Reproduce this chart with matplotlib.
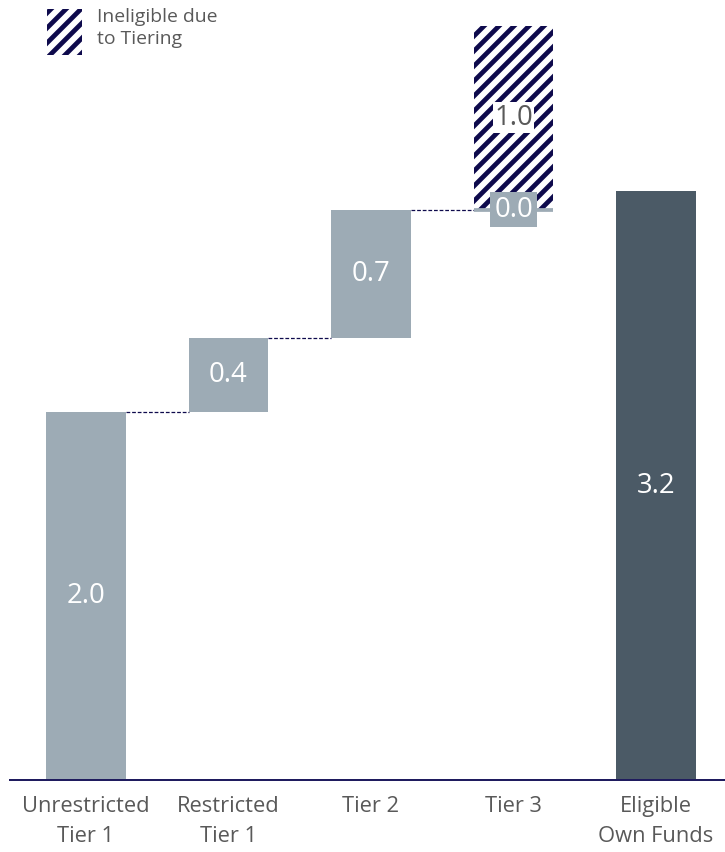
import matplotlib
matplotlib.use('Agg')
import matplotlib.pyplot as plt
from matplotlib.patches import Rectangle

categories = ['Unrestricted\nTier 1', 'Restricted\nTier 1', 'Tier 2', 'Tier 3', 'Eligible\nOwn Funds']
eligible = [2.0, 0.4, 0.7, 0.0]      # eligible amount per tier
ineligible = [0.0, 0.0, 0.0, 1.0]    # amount cut off by tiering limits
total = 3.2                          # eligible own funds

LIGHT = '#9dabb5'
DARK = '#4b5a66'
NAVY = '#0e0a4c'
GREY = '#595959'
W = 0.56

DPI = 90
plt.rcParams['font.family'] = ['Open Sans', 'DejaVu Sans']
plt.rcParams['hatch.linewidth'] = 3.8

fig = plt.figure(figsize=(725 / DPI, 852 / DPI), dpi=DPI)
ax = fig.add_axes([10 / 725, 72 / 852, 715 / 725, 772.8 / 852])

base = 0.0
for i, v in enumerate(eligible):
    if v > 0:
        ax.bar(i, v, bottom=base, width=W, color=LIGHT, zorder=2)
        ax.text(i, base + v / 2, f'{v:.1f}', ha='center', va='center',
                color='white', fontsize=22, zorder=5)
    else:
        ax.hlines(base, i - W / 2, i + W / 2, color=LIGHT, lw=3, zorder=3)
        ax.text(i, base, f'{v:.1f}', ha='center', va='center', color='white',
                fontsize=22, zorder=5,
                bbox=dict(boxstyle='square,pad=0.14', fc=LIGHT, ec='none'))
    if ineligible[i] > 0:
        ax.bar(i, ineligible[i], bottom=base + v, width=W, facecolor='white',
               edgecolor=NAVY, linewidth=0, hatch='//', zorder=1)
        ax.text(i, base + v + ineligible[i] / 2, f'{ineligible[i]:.1f}',
                ha='center', va='center', color=GREY, fontsize=22, zorder=5,
                bbox=dict(boxstyle='square,pad=0.05', fc='white', ec='none'))
    base += v
    # dashed connector to the next step
    if i < len(eligible) - 1:
        ax.plot([i + W / 2, i + 1 - W / 2], [base, base], color=NAVY, lw=1,
                ls=(0, (3, 1.5)), zorder=1)

n = len(eligible)
ax.bar(n, total, width=W, color=DARK, zorder=2)
ax.text(n, total / 2, f'{total:.1f}', ha='center', va='center',
        color='white', fontsize=22)

ax.set_xlim(-0.533, 4.484)
ax.set_ylim(0, 4.2)
ax.set_xticks(range(len(categories)))
ax.set_xticklabels(categories, color=GREY, fontsize=17.5, linespacing=1.55)
ax.tick_params(axis='x', length=0, pad=13)
ax.set_yticks([])
for s in ['top', 'left', 'right']:
    ax.spines[s].set_visible(False)
ax.spines['bottom'].set_color('#1f1b5e')
ax.spines['bottom'].set_linewidth(1.6)

# legend
fig.add_artist(Rectangle((47 / 725, 1 - 55 / 852), 35 / 725, 46 / 852,
                         transform=fig.transFigure, facecolor='white',
                         edgecolor=NAVY, linewidth=0, hatch='//'))
fig.text(97 / 725, 1 - 8 / 852, 'Ineligible due\nto Tiering', ha='left',
         va='top', color=GREY, fontsize=15.5, linespacing=1.3)

fig.savefig('out.png', dpi=DPI)
